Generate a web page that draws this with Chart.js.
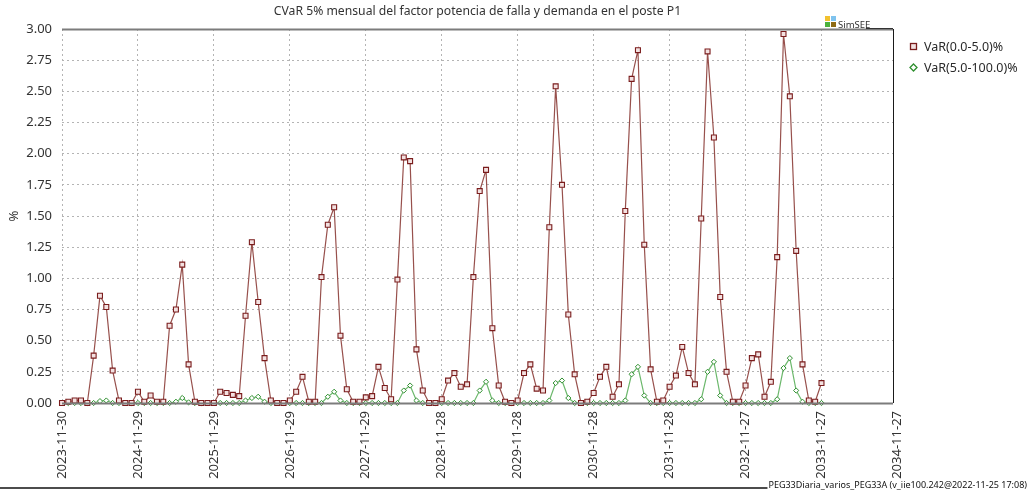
<!DOCTYPE html>
<html>
<head>
<meta charset="utf-8">
<script src="https://cdn.jsdelivr.net/npm/chart.js@4.4.0/dist/chart.umd.min.js"></script>
<style>
  html, body { margin: 0; padding: 0; background: #fff; overflow: hidden; }
  canvas { display: block; }
</style>
</head>
<body>
<canvas id="c" width="1028" height="492"></canvas>
<script>
// Monthly CVaR 5% series, one value per month starting at 2023-11-30
const chartTitle = 'CVaR 5% mensual del factor potencia de falla y demanda en el poste P1';
const yAxisTitle = '%';
const seriesNames = ['VaR(0.0-5.0)%', 'VaR(5.0-100.0)%'];
const footerText = 'PEG33Diaria_varios_PEG33A (v_iie100.242@2022-11-25 17:08)';
const logoText = 'SimSEE';

// yearly tick labels (one every 12 months)
const tickLabels = [
  '2023-11-30', '2024-11-29', '2025-11-29', '2026-11-29', '2027-11-29', '2028-11-28',
  '2029-11-28', '2030-11-28', '2031-11-28', '2032-11-27', '2033-11-27', '2034-11-27'
];

const var0to5 = [
  0.00, 0.01, 0.02, 0.02, 0.00, 0.38, 0.86, 0.77, 0.26, 0.02, 0.00, 0.00,
  0.09, 0.01, 0.06, 0.01, 0.01, 0.62, 0.75, 1.11, 0.31, 0.01, 0.00, 0.00,
  0.00, 0.09, 0.08, 0.065, 0.055, 0.70, 1.29, 0.81, 0.36, 0.02, 0.00, 0.00,
  0.02, 0.09, 0.21, 0.01, 0.01, 1.01, 1.43, 1.57, 0.54, 0.11, 0.01, 0.01,
  0.045, 0.055, 0.29, 0.12, 0.03, 0.99, 1.97, 1.94, 0.43, 0.10, 0.00, 0.00,
  0.03, 0.18, 0.24, 0.13, 0.15, 1.01, 1.70, 1.87, 0.60, 0.14, 0.01, 0.00,
  0.02, 0.24, 0.31, 0.115, 0.10, 1.41, 2.54, 1.75, 0.71, 0.23, 0.00, 0.01,
  0.08, 0.21, 0.29, 0.05, 0.15, 1.54, 2.60, 2.83, 1.27, 0.27, 0.01, 0.02,
  0.13, 0.22, 0.45, 0.24, 0.15, 1.48, 2.82, 2.13, 0.85, 0.25, 0.01, 0.01,
  0.14, 0.36, 0.39, 0.05, 0.17, 1.17, 2.96, 2.46, 1.22, 0.31, 0.02, 0.01,
  0.16
];

const var5to100 = [
  0, 0, 0, 0, 0, 0, 0.015, 0.02, 0, 0, 0, 0,
  0, 0, 0, 0, 0, 0, 0.01, 0.04, 0.005, 0, 0, 0,
  0, 0, 0, 0, 0, 0.02, 0.04, 0.05, 0.01, 0, 0, 0,
  0, 0, 0, 0, 0, 0, 0.05, 0.09, 0.02, 0, 0, 0,
  0, 0, 0, 0, 0, 0, 0.10, 0.14, 0.02, 0, 0, 0,
  0, 0, 0, 0, 0, 0, 0.10, 0.17, 0.02, 0, 0, 0,
  0, 0, 0, 0, 0, 0.02, 0.16, 0.18, 0.04, 0, 0, 0,
  0, 0, 0, 0, 0, 0.02, 0.23, 0.29, 0.06, 0, 0, 0,
  0, 0, 0, 0, 0, 0.03, 0.25, 0.33, 0.06, 0, 0, 0,
  0, 0, 0, 0, 0, 0.03, 0.28, 0.36, 0.10, 0.01, 0, 0,
  0
];

const FONT = '"Noto Sans", "Open Sans", sans-serif';
const RED_LINE = '#97504c';
const RED_MARK = '#7a1c1c';
const RED_FILL = '#f3e1e1';
const GREEN_LINE = '#6cb86c';
const GREEN_MARK = '#2f8f2f';
const GRID = '#b4b4b4';
const X_MAX = 131.3;

const toPoints = arr => arr.map((v, i) => ({ x: i, y: v }));

// frame, title, legend, logo and footer
const decorations = {
  id: 'decorations',
  afterDraw(chart) {
    const { ctx, chartArea: a } = chart;
    ctx.save();

    // frame
    ctx.lineWidth = 2;
    ctx.strokeStyle = '#7c7c7c';
    ctx.beginPath();
    ctx.moveTo(a.left, a.top + 0.5); ctx.lineTo(a.right, a.top + 0.5);
    ctx.moveTo(a.left, a.bottom + 0.5); ctx.lineTo(a.right, a.bottom + 0.5);
    ctx.stroke();
    ctx.lineWidth = 1;
    ctx.strokeStyle = '#1a1a1a';
    ctx.beginPath();
    ctx.moveTo(a.right + 0.5, a.top); ctx.lineTo(a.right + 0.5, a.bottom);
    ctx.stroke();

    // title
    ctx.fillStyle = '#333';
    ctx.font = '12.2px ' + FONT;
    ctx.textAlign = 'center';
    ctx.textBaseline = 'middle';
    ctx.fillText(chartTitle, (a.left + a.right) / 2, 12);

    // legend
    ctx.textAlign = 'left';
    ctx.font = '12.5px ' + FONT;
    ctx.fillStyle = RED_FILL;
    ctx.strokeStyle = RED_MARK;
    ctx.lineWidth = 1.3;
    ctx.fillRect(910.5, 43.5, 6, 6);
    ctx.strokeRect(910.5, 43.5, 6, 6);
    ctx.fillStyle = '#2a2a2a';
    ctx.fillText(seriesNames[0], 924, 47);

    ctx.fillStyle = '#ffffff';
    ctx.strokeStyle = GREEN_MARK;
    ctx.beginPath();
    ctx.moveTo(913.5, 64); ctx.lineTo(917, 67.5); ctx.lineTo(913.5, 71); ctx.lineTo(910, 67.5);
    ctx.closePath();
    ctx.fill(); ctx.stroke();
    ctx.fillStyle = '#2a2a2a';
    ctx.fillText(seriesNames[1], 924, 68);

    // logo
    ctx.fillStyle = '#f2c12e'; ctx.fillRect(825, 16, 5, 5);
    ctx.fillStyle = '#7fc3ee'; ctx.fillRect(831, 16, 5, 5);
    ctx.fillStyle = '#4cb23c'; ctx.fillRect(825, 22, 5, 5);
    ctx.fillStyle = '#8d6a14'; ctx.fillRect(831, 22, 5, 5);
    ctx.fillStyle = '#333';
    ctx.font = '9.5px ' + FONT;
    ctx.textBaseline = 'alphabetic';
    ctx.fillText(logoText, 838, 28);
    ctx.strokeStyle = '#333';
    ctx.lineWidth = 1;
    ctx.beginPath();
    ctx.moveTo(866, 28.5); ctx.lineTo(a.right, 28.5);
    ctx.stroke();

    // footer
    ctx.fillStyle = '#111';
    ctx.font = '9px ' + FONT;
    ctx.textAlign = 'right';
    ctx.fillText(footerText, 1027, 488);
    const fw = ctx.measureText(footerText).width;
    ctx.strokeStyle = '#111';
    ctx.lineWidth = 1.5;
    ctx.beginPath();
    ctx.moveTo(0, 488); ctx.lineTo(1027 - fw - 1, 488);
    ctx.stroke();

    ctx.restore();
  }
};

new Chart(document.getElementById('c'), {
  type: 'line',
  data: {
    datasets: [
      {
        label: seriesNames[0],
        data: toPoints(var0to5),
        borderColor: RED_LINE,
        borderWidth: 1.2,
        pointStyle: 'rect',
        pointRadius: 3.5,
        pointBorderWidth: 1.1,
        pointBorderColor: RED_MARK,
        pointBackgroundColor: RED_FILL,
        tension: 0,
        clip: false
      },
      {
        label: seriesNames[1],
        data: toPoints(var5to100),
        borderColor: GREEN_LINE,
        borderWidth: 1.2,
        pointStyle: 'rectRot',
        pointRadius: 2.6,
        pointBorderWidth: 1,
        pointBorderColor: GREEN_MARK,
        pointBackgroundColor: '#ffffff',
        tension: 0,
        clip: false
      }
    ]
  },
  options: {
    responsive: false,
    animation: false,
    devicePixelRatio: 1,
    layout: { padding: { left: 0, top: 29, right: 135, bottom: 0 } },
    plugins: {
      legend: { display: false },
      title: { display: false },
      tooltip: { enabled: false }
    },
    scales: {
      x: {
        type: 'linear',
        min: 0,
        max: X_MAX,
        afterBuildTicks(scale) {
          scale.ticks = tickLabels.map((_, k) => ({ value: k * 12 }));
        },
        afterFit(scale) { scale.height = 89; },
        grid: {
          color: ctx => (ctx.tick && ctx.tick.value > X_MAX) ? 'rgba(0,0,0,0)' : GRID,
          lineWidth: 1,
          drawTicks: false
        },
        border: { display: false, dash: [2, 3] },
        ticks: {
          autoSkip: false,
          minRotation: 90,
          maxRotation: 90,
          padding: 8,
          color: '#333',
          font: { family: FONT, size: 13 },
          callback: value => tickLabels[Math.round(value / 12)]
        }
      },
      y: {
        min: 0,
        max: 3,
        afterFit(scale) { scale.width = 62; },
        grid: { color: GRID, lineWidth: 1, drawTicks: false },
        border: { display: false, dash: [2, 3] },
        ticks: {
          stepSize: 0.25,
          padding: 10,
          color: '#333',
          font: { family: FONT, size: 13 },
          callback: value => value.toFixed(2)
        },
        title: {
          display: true,
          text: yAxisTitle,
          color: '#333',
          font: { family: FONT, size: 13 },
          padding: { top: 6, bottom: 0 }
        }
      }
    }
  },
  plugins: [decorations]
});
</script>
</body>
</html>
